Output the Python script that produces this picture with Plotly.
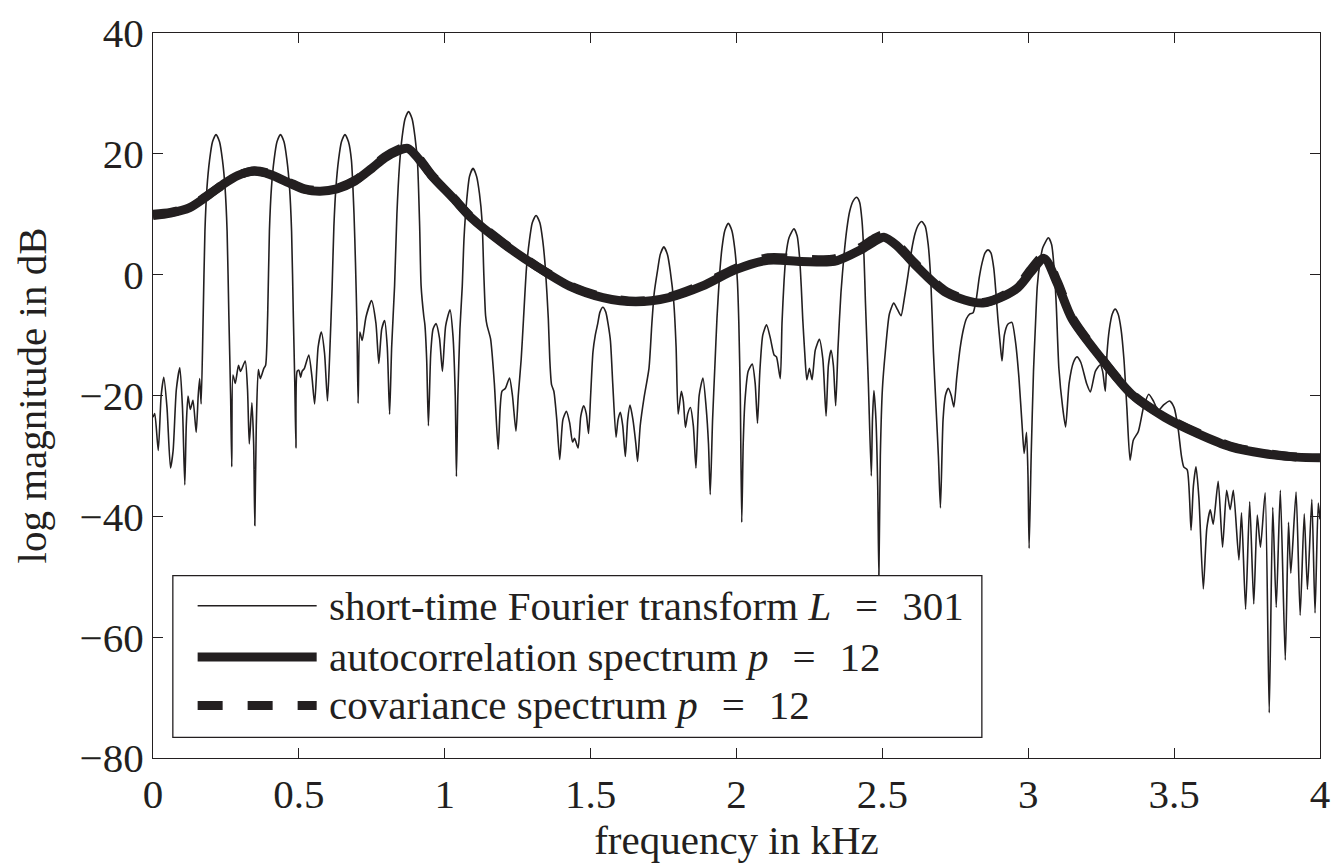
import plotly.graph_objects as go

# ---------------- data ----------------
# short-time Fourier transform (L = 301), frequency in kHz / log magnitude in dB
stft_khz_segments = [
    [0.000, 0.006, 0.018, 0.028, 0.037, 0.048, 0.060, 0.069, 0.080, 0.092, 0.101, 0.109, 0.114, 0.120, 0.128, 0.137, 0.148, 0.155, 0.160, 0.165],
    [0.172, 0.178, 0.185, 0.194, 0.204, 0.216, 0.228, 0.238, 0.247, 0.254, 0.260, 0.266, 0.270],
    [0.274, 0.282, 0.293, 0.300, 0.316, 0.324, 0.330, 0.339, 0.345, 0.349, 0.354, 0.361, 0.368, 0.380, 0.386],
    [0.393, 0.399, 0.406, 0.415, 0.425, 0.437, 0.449, 0.459, 0.468, 0.475, 0.481, 0.486, 0.490],
    [0.494, 0.500, 0.506, 0.511, 0.519, 0.534, 0.545, 0.554, 0.566, 0.577, 0.588, 0.598],
    [0.605, 0.614, 0.620, 0.627, 0.636, 0.646, 0.658, 0.670, 0.680, 0.689, 0.694, 0.699, 0.703],
    [0.709, 0.717, 0.730, 0.749, 0.764, 0.774, 0.784, 0.794, 0.803, 0.811],
    [0.818, 0.828, 0.836, 0.845, 0.854, 0.864, 0.876, 0.888, 0.898, 0.907, 0.914, 0.919, 0.928, 0.932, 0.938, 0.944],
    [0.952, 0.960, 0.970, 0.982, 0.992, 1.003, 1.018, 1.028, 1.036, 1.040],
    [1.045, 1.052, 1.060, 1.066, 1.075, 1.085, 1.097, 1.109, 1.119, 1.128, 1.134, 1.140, 1.145, 1.157, 1.170, 1.183],
    [1.190, 1.196, 1.208, 1.222, 1.232, 1.244],
    [1.252, 1.262, 1.270, 1.280, 1.290, 1.300, 1.313, 1.326, 1.336, 1.345, 1.355, 1.360, 1.366, 1.374, 1.384, 1.394],
    [1.405, 1.417, 1.428, 1.438, 1.445, 1.457, 1.466, 1.476, 1.485, 1.493],
    [1.500, 1.508, 1.516, 1.524, 1.532, 1.542, 1.552, 1.560, 1.568, 1.576, 1.587],
    [1.594, 1.602, 1.610, 1.619, 1.627, 1.635, 1.645, 1.655, 1.661],
    [1.670, 1.683, 1.700, 1.710, 1.718, 1.729, 1.739, 1.751, 1.763, 1.773, 1.785, 1.793, 1.800],
    [1.811, 1.818, 1.825, 1.833, 1.842, 1.852, 1.861, 1.872, 1.885, 1.896, 1.904, 1.910],
    [1.918, 1.926, 1.933, 1.942, 1.950, 1.960, 1.972, 1.984, 1.994, 2.003, 2.008, 2.013, 2.018],
    [2.023, 2.029, 2.040, 2.054, 2.064, 2.072, 2.080, 2.090, 2.103, 2.116, 2.129, 2.137, 2.150],
    [2.156, 2.163, 2.170, 2.180, 2.197, 2.208, 2.216, 2.222, 2.227, 2.234, 2.241],
    [2.250, 2.259, 2.270, 2.284, 2.296, 2.307, 2.315, 2.324, 2.332, 2.340],
    [2.348, 2.358, 2.369, 2.378, 2.388, 2.400, 2.412, 2.422, 2.430, 2.437, 2.442, 2.452, 2.462],
    [2.466, 2.471, 2.478, 2.484, 2.488, 2.493, 2.500, 2.510, 2.524, 2.539, 2.552, 2.564],
    [2.575, 2.588, 2.600, 2.612, 2.623, 2.635, 2.647, 2.657, 2.666, 2.675, 2.684, 2.692, 2.699],
    [2.708, 2.716, 2.726, 2.736, 2.745, 2.755, 2.767, 2.778, 2.788, 2.800, 2.811],
    [2.822, 2.832, 2.842, 2.852, 2.862, 2.872, 2.882, 2.890, 2.896, 2.904, 2.910],
    [2.918, 2.930, 2.944, 2.956, 2.968, 2.980, 2.986, 2.994, 2.999, 3.003],
    [3.010, 3.018, 3.025, 3.031, 3.040, 3.050, 3.069, 3.080, 3.088, 3.096, 3.105, 3.118, 3.128],
    [3.140, 3.155, 3.167, 3.180, 3.200, 3.213, 3.230, 3.247, 3.255, 3.264],
    [3.270, 3.278, 3.288, 3.298, 3.308, 3.318, 3.328, 3.338, 3.349],
    [3.360, 3.377, 3.395, 3.413, 3.430, 3.445, 3.465, 3.485, 3.500, 3.513, 3.525, 3.533, 3.545],
    [3.558, 3.566, 3.575, 3.585, 3.600, 3.612, 3.624, 3.634, 3.651, 3.666, 3.680, 3.692, 3.703, 3.722, 3.731, 3.745, 3.759, 3.773,
     3.785, 3.796, 3.812, 3.826, 3.838, 3.850, 3.864, 3.881, 3.892, 3.900, 3.918, 3.932, 3.946, 3.957, 3.972, 3.983, 3.994, 4.000],
]
stft_db_segments = [
    [-23.6, -23.0, -29.1, -20, -17.0, -22, -32.0, -29.1, -19, -15.4, -22, -34.8, -25, -20.1, -22.3, -20.8, -26.1, -20, -17.2, -21.4],
    [-6.8, 7.2, 14.4, 19.0, 22.0, 23.2, 22.0, 19.0, 14.4, 7.2, -6.8, -20, -31.8],
    [-16.6, -18, -15, -16, -14.3, -19, -28, -21.2, -28, -41.5, -25, -15.7, -17.2, -15.5, -15],
    [-6.8, 7.2, 14.4, 19.0, 22.0, 23.2, 22.0, 19.0, 14.4, 7.2, -6.8, -18, -28.7],
    [-16, -15.8, -17, -16, -15.5, -13.3, -17, -21.4, -12, -9.5, -13, -20.9],
    [-14, -2, 8, 14.4, 19.0, 22.0, 23.2, 22.0, 19.0, 10, 2, -8, -21.3],
    [-9.5, -10.9, -7, -4.3, -8, -14.7, -9, -7.6, -12, -23.1],
    [-12, -1.9, 10, 18.2, 22.8, 25.8, 27, 25.8, 22.8, 18.2, 8, -1.9, -6.8, -8.3, -14, -25],
    [-13, -9, -8.1, -10.5, -16, -8.5, -5.8, -10, -20, -33.4],
    [-20, -9, -1.9, 6, 12.2, 16.3, 17.6, 16.3, 13.4, 8.8, 0, -6.8, -8.4, -10.6, -18, -28.9],
    [-22, -19.3, -18.8, -17.1, -20, -25.9],
    [-20, -14, -7.3, 1.0, 5.6, 8.6, 9.8, 8.6, 5.6, 1.0, -7.3, -14, -18.2, -19.3, -24, -30.6],
    [-24, -22.6, -24.5, -27.7, -27.1, -28.7, -23.5, -21.7, -23, -26.3],
    [-20, -12.8, -10, -8.2, -6.2, -5.4, -6.2, -8.2, -11, -18.2, -26.9],
    [-24, -22.8, -25, -30.1, -24, -21.6, -24, -28, -30.9],
    [-25, -20.4, -15.5, -8, -3, 0.6, 3.4, 4.6, 3.4, 0.6, -4.6, -12, -23.1],
    [-19.3, -21, -25.3, -23, -22, -25, -32, -20, -17.1, -22, -28, -36.4],
    [-24, -15, -7.3, 0, 4.3, 7.3, 8.5, 7.3, 4.3, -1, -8, -20, -41],
    [-28, -20.9, -16, -14.8, -18, -24.6, -16, -10, -8.3, -10.5, -13.3, -13.6, -17.2],
    [-8, -1, 3.4, 6.1, 7.6, 6.4, 3, -2, -7.3, -13, -17.4],
    [-15.5, -17.4, -12.5, -10.7, -14, -23.4, -15, -12.5, -15, -21.7],
    [-12, -3, 3.5, 7.5, 10.5, 12.2, 12.8, 12, 9, 3, -4.6, -18, -33.3],
    [-24, -19.2, -24, -35, -50, -30, -19, -12.8, -6.5, -4.7, -5.8, -6.8],
    [-4, 0, 4, 6.8, 8.2, 8.8, 8, 5, -1, -12.8, -22, -30, -38.6],
    [-24, -20, -18.8, -20, -21.9, -17, -12, -9, -7.3, -6.5, -6.3],
    [-4, -0.5, 2, 3.6, 4.1, 3.6, 1, -3.5, -7.3, -11.5, -14.3],
    [-10, -8.2, -7.9, -11, -17, -25.8, -29.6, -26.1, -33, -45.3],
    [-30, -16, -8, -1.9, 2, 4.5, 6.1, 5, 1.5, -5, -15.5, -22, -25.2],
    [-18, -14.5, -13.6, -14.5, -18, -19.4, -16, -14.9, -16, -19.3],
    [-13, -9, -6.5, -5.7, -6.5, -9, -14, -22, -30.7],
    [-27.4, -26, -22, -19.8, -21, -22.5, -21.5, -20.9, -22, -25.2, -30, -31.8, -32.3],
    [-42.3, -35, -31.8, -37, -52, -42, -38.9, -41.3, -34.2, -45.1, -35.7, -38.9, -35.7, -47.2, -39.4, -55.4, -37.6, -54.5,
     -39.8, -45.1, -36.1, -72.5, -38.5, -55.1, -35.7, -63.8, -41, -49.4, -36, -56.4, -39.6, -52.1, -37.2, -56, -37.8, -40.5],
]

# autocorrelation-method LPC spectrum (p = 12)
auto_khz = [0, 0.06, 0.126, 0.18, 0.239, 0.29, 0.347, 0.40, 0.466, 0.52, 0.573, 0.63, 0.692, 0.75, 0.794, 0.84,
            0.873, 0.91, 0.953, 1.03, 1.089, 1.202, 1.315, 1.428, 1.542, 1.655, 1.768, 1.882, 1.995, 2.108, 2.222,
            2.335, 2.425, 2.47, 2.505, 2.55, 2.607, 2.72, 2.845, 2.958, 3.01, 3.054, 3.10, 3.15, 3.241, 3.354, 3.468,
            3.581, 3.694, 3.807, 3.921, 4.0]
auto_db = [9.8, 10.2, 11.1, 12.8, 14.9, 16.4, 17.1, 16.6, 15.2, 14.1, 13.8, 14.2, 15.5, 17.6, 19.3, 20.5,
           20.9, 19.2, 16.5, 12.6, 9.5, 5.1, 1.35, -1.9, -3.8, -4.5, -3.8, -1.9, 0.8, 2.4, 2.2,
           2.2, 4.1, 5.4, 6.2, 4.8, 1.9, -3.0, -4.7, -2.4, 0.5, 2.7, -1.5, -7.3, -13.3, -19.8, -23.6,
           -26.3, -28.5, -29.6, -30.2, -30.3]

# covariance-method LPC spectrum (p = 12)
cov_khz = [0, 0.06, 0.126, 0.18, 0.239, 0.29, 0.347, 0.40, 0.466, 0.52, 0.573, 0.63, 0.692, 0.75, 0.794, 0.84,
           0.873, 0.91, 0.953, 1.03, 1.089, 1.202, 1.315, 1.428, 1.542, 1.655, 1.768, 1.882, 1.995, 2.108, 2.222,
           2.335, 2.425, 2.47, 2.505, 2.55, 2.607, 2.72, 2.845, 2.958, 3.01, 3.054, 3.10, 3.15, 3.241, 3.354, 3.468,
           3.581, 3.694, 3.807, 3.921, 4.0]
cov_db = [10.0, 10.3, 11.2, 12.9, 14.9, 16.4, 17.2, 16.7, 15.3, 14.2, 13.9, 14.3, 15.6, 17.7, 19.5, 20.7,
          21.2, 19.4, 16.6, 12.7, 9.6, 5.2, 1.4, -1.8, -3.7, -4.4, -3.7, -1.7, 1.0, 2.8, 2.6,
          2.6, 4.5, 5.9, 6.6, 5.1, 2.1, -2.8, -4.6, -2.2, 0.9, 3.1, -1.2, -7.1, -13.2, -19.7, -23.5,
          -26.2, -28.4, -29.5, -30.2, -30.3]

x_tick_vals = [0, 0.5, 1, 1.5, 2, 2.5, 3, 3.5, 4]
x_tick_text = ["0", "0.5", "1", "1.5", "2", "2.5", "3", "3.5", "4"]
y_tick_vals = [-80, -60, -40, -20, 0, 20, 40]
y_tick_text = ["\u221280", "\u221260", "\u221240", "\u221220", "0", "20", "40"]

EQ = "\u2002\u200a=\u2002\u200a"
legend_labels = [
    "short-time Fourier transform <i>L</i>" + EQ + "301",
    "autocorrelation spectrum <i>p</i>" + EQ + "12",
    "covariance spectrum <i>p</i>" + EQ + "12",
]

# ---------------- figure ----------------
stft_khz = [v for seg in stft_khz_segments for v in seg]
stft_db = [v for seg in stft_db_segments for v in seg]
n = min(len(stft_khz), len(stft_db))
stft_khz, stft_db = stft_khz[:n], stft_db[:n]

FONT = "Liberation Serif, Times New Roman, serif"
INK = "#231f20"

fig = go.Figure()
fig.add_trace(go.Scatter(x=stft_khz, y=stft_db, mode="lines",
                         line=dict(color=INK, width=1.6, shape="spline", smoothing=0.6),
                         name=legend_labels[0], showlegend=False))
fig.add_trace(go.Scatter(x=auto_khz, y=auto_db, mode="lines",
                         line=dict(color=INK, width=9, shape="spline", smoothing=0.8),
                         name=legend_labels[1], showlegend=False))
fig.add_trace(go.Scatter(x=cov_khz, y=cov_db, mode="lines",
                         line=dict(color=INK, width=9, dash="25px,25px", shape="spline", smoothing=0.8),
                         name=legend_labels[2], showlegend=False))

axis_common = dict(
    ticks="inside", ticklen=10, tickwidth=1.3, tickcolor=INK,
    showline=True, linecolor=INK, linewidth=1.3, mirror="ticks",
    showgrid=False, zeroline=False,
    tickfont=dict(family=FONT, size=41, color=INK),
)

fig.update_layout(
    width=1340, height=864,
    margin=dict(l=153, r=10, t=23, b=106),
    paper_bgcolor="white", plot_bgcolor="white",
    font=dict(family=FONT, color=INK),
    showlegend=False,
    xaxis=dict(range=[0, 4], tickvals=x_tick_vals, ticktext=x_tick_text,
               title=dict(text="frequency in kHz", font=dict(family=FONT, size=41, color=INK), standoff=6),
               **axis_common),
    yaxis=dict(range=[-80, 40], tickvals=y_tick_vals, ticktext=y_tick_text,
               title=dict(text="log magnitude in dB", font=dict(family=FONT, size=41, color=INK), standoff=20),
               **axis_common),
)

# manual legend (box, line samples, labels) in data coordinates
fig.add_shape(type="rect", xref="x", yref="y", x0=0.068, x1=2.841, y0=-76.6, y1=-49.8,
              line=dict(color=INK, width=1.3), fillcolor="white", layer="above")
rows_y = [-54.8, -63.3, -71.3]
fig.add_shape(type="line", xref="x", yref="y", x0=0.153, x1=0.561, y0=rows_y[0], y1=rows_y[0],
              line=dict(color=INK, width=1.6), layer="above")
fig.add_shape(type="line", xref="x", yref="y", x0=0.153, x1=0.561, y0=rows_y[1], y1=rows_y[1],
              line=dict(color=INK, width=9), layer="above")
fig.add_shape(type="line", xref="x", yref="y", x0=0.153, x1=0.561, y0=rows_y[2], y1=rows_y[2],
              line=dict(color=INK, width=9, dash="25px,25px"), layer="above")
for label, yy in zip(legend_labels, rows_y):
    fig.add_annotation(x=0.598, y=yy, xref="x", yref="y", text=label, showarrow=False,
                       xanchor="left", yanchor="middle",
                       font=dict(family=FONT, size=41, color=INK))

fig.write_html("out.html")
